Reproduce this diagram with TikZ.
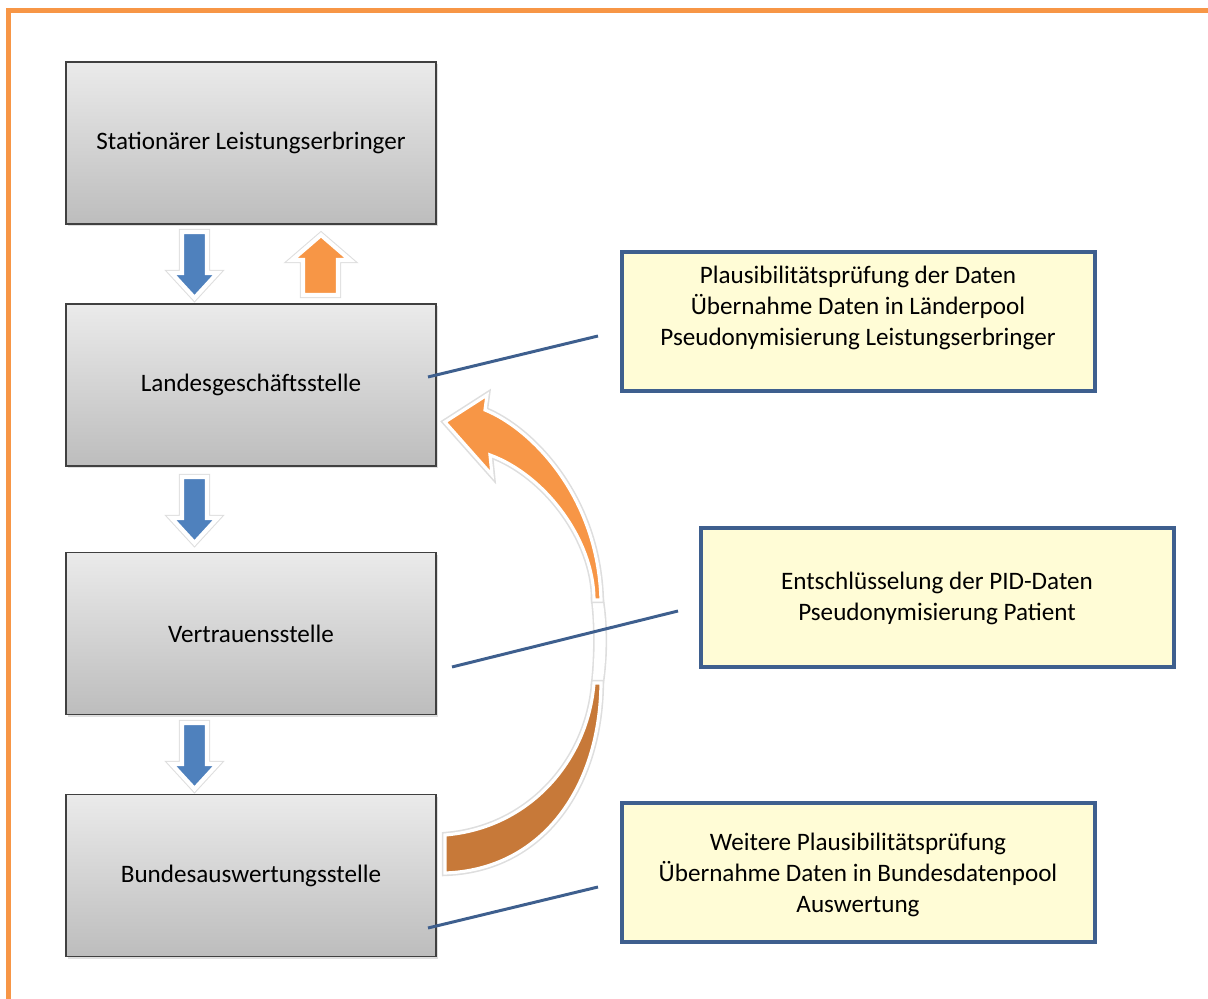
\documentclass[tikz,border=0pt]{standalone}
\usepackage{fontspec}
\setmainfont{Carlito}
\usetikzlibrary{shadows}

\definecolor{frameorange}{RGB}{247,150,70}
\definecolor{backorange}{RGB}{199,121,57}
\definecolor{flowblue}{RGB}{79,129,189}
\definecolor{linkblue}{RGB}{62,95,142}
\definecolor{notefill}{RGB}{255,252,214}

\begin{document}
\begin{tikzpicture}[
		x=0.02cm,
		y=-0.02cm,
		font=\fontsize{14.3}{17.6}\selectfont,
		station/.style={draw=black!75,line width=1.1pt,top color=black!8,bottom color=black!26,minimum width=7.4cm,minimum height=3.24cm,inner sep=0pt,drop shadow={opacity=0.25,shadow xshift=1.2pt,shadow yshift=-1.2pt}},
		note/.style={draw=linkblue,line width=2.3pt,fill=notefill,minimum width=9.46cm,minimum height=2.78cm,inner sep=0pt,drop shadow={opacity=0.2,shadow xshift=1.2pt,shadow yshift=-1.2pt}},
		notetext/.style={align=center,inner sep=0pt},
		flowarrow/.style={draw=white,line width=2.4pt,line join=miter,preaction={draw=black!13,line width=3.6pt}},
		link/.style={draw=linkblue,line width=1.7pt},
	]
		\useasboundingbox (0,0) rectangle (1208,999);
		\draw[frameorange,line width=2.8pt] (8.5,999) -- (8.5,10.5) -- (1208,10.5);
		
		% Stellen
		\node[station] (sle) at (251,143) {Stationärer Leistungserbringer};
		\node[station] (lgs) at (251,385) {Landesgeschäftsstelle};
		\node[station] (vst) at (251,633.5) {Vertrauensstelle};
		\node[station] (bas) at (251,875.5) {Bundesauswertungsstelle};
		
		\foreach \t in {232,477,723}{
			\draw[flowarrow,fill=flowblue] (182,\t) -- (207,\t) -- (207,{\t+41}) -- (217.5,{\t+41}) -- (194.5,{\t+66}) -- (171.5,{\t+41}) -- (182,{\t+41}) -- cycle;
		}
		\draw[flowarrow,fill=frameorange] (303,295) -- (303,260) -- (292,260) -- (321,235) -- (350,260) -- (338,260) -- (338,295) -- cycle;
		
		% Rueckmeldung
		\draw[flowarrow,line width=1.8pt,fill=white] (594,600) .. controls (597,625) and (597,655) .. (594,683) -- (601,683) .. controls (605,655) and (605,625) .. (601,600) -- cycle;
		\draw[flowarrow,line width=1.8pt,fill=backorange] (445,835) .. controls (530,828) and (588,760) .. (594,683) -- (601,683) .. controls (600,790) and (540,870) .. (445,873) -- cycle;
		\draw[flowarrow,line width=1.8pt,fill=frameorange] (594,600) .. controls (594,540) and (545,475) .. (490,455) -- (492,475) -- (445,422) -- (487,395) -- (485,410) .. controls (530,428) and (598,495) .. (601,600) -- cycle;
		
		% Aufgaben
		\node[note] (noteLgs) at (858.5,321.5) {};
		\node[notetext] (txtLgs) at (858,308) {Plausibilitätsprüfung der Daten\\ Übernahme Daten in Länderpool\\ Pseudonymisierung Leistungserbringer};
		\node[note] (noteVst) at (937.5,597.5) {};
		\node[notetext] (txtVst) at (937,598.5) {Entschlüsselung der PID-Daten\\ Pseudonymisierung Patient};
		\node[note] (noteBas) at (858.5,872.5) {};
		\node[notetext] (txtBas) at (858,875) {Weitere Plausibilitätsprüfung\\ Übernahme Daten in Bundesdatenpool\\ Auswertung};
		
		\coordinate (lgsLink) at (428,377);
		\coordinate (noteLgsLink) at (598,336);
		\coordinate (vstLink) at (452,667);
		\coordinate (noteVstLink) at (678,611);
		\coordinate (basLink) at (428,928);
		\coordinate (noteBasLink) at (598,887);
		\draw[link] (lgsLink) -- (noteLgsLink);
		\draw[link] (vstLink) -- (noteVstLink);
		\draw[link] (basLink) -- (noteBasLink);
	\end{tikzpicture}
\end{document}
